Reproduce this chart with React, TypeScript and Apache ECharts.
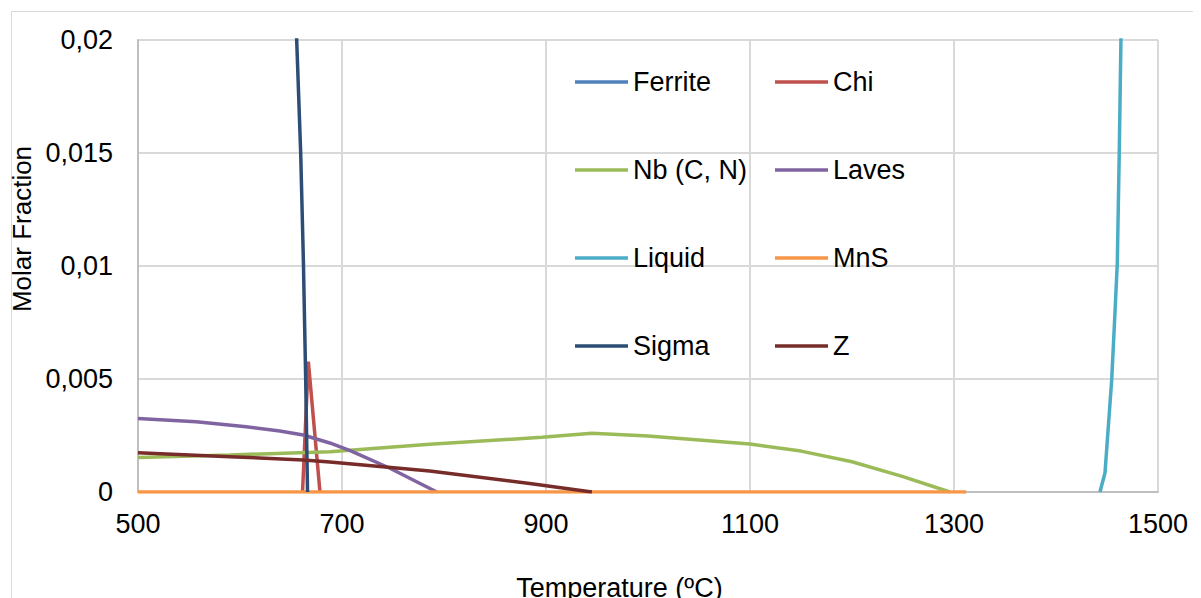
import React, { useEffect, useRef } from "react";
import * as echarts from "echarts";

// ---- data ----
const seriesNames = ["Ferrite", "Chi", "Nb (C, N)", "Laves", "Liquid", "MnS", "Sigma", "Z"];
const seriesColors = ["#4F81BD", "#C0504D", "#9BBB59", "#8064A2", "#4BACC6", "#F79646", "#2C4D75", "#772C2A"];

const xTicks = [500, 700, 900, 1100, 1300, 1500];
const yTicks = [0, 0.005, 0.01, 0.015, 0.02];

const ferriteT: number[] = [];
const ferriteV: number[] = [];

const chiT = [661.3, 667.0, 678.4];
const chiV = [0, 0.00577, 0];

const nbT = [500, 590, 688, 786, 896, 945, 1000, 1050, 1100, 1150, 1200, 1250, 1296];
const nbV = [0.00153, 0.00164, 0.00178, 0.00211, 0.00242, 0.0026, 0.00248, 0.0023, 0.00212, 0.00181, 0.00134, 0.00068, 0];

const lavesT = [500, 557, 606, 639, 662, 688, 708, 747, 793];
const lavesV = [0.00325, 0.00311, 0.00289, 0.0027, 0.00252, 0.00217, 0.00183, 0.00105, 0];

const liquidT = [1443.1, 1448, 1454.6, 1457.8, 1460.1, 1462, 1463.7];
const liquidV = [0, 0.00084, 0.00496, 0.00792, 0.01013, 0.015, 0.0201];

const mnsT = [500, 1312];
const mnsV = [0, 0];

const sigmaT = [655.5, 659.5, 662.2, 664.4, 666.2];
const sigmaV = [0.0201, 0.015, 0.0101, 0.005, 0];

const zT = [500, 590, 662, 688, 786, 884, 945];
const zV = [0.00174, 0.00156, 0.00142, 0.00133, 0.00093, 0.00038, 0];

const seriesT = [ferriteT, chiT, nbT, lavesT, liquidT, mnsT, sigmaT, zT];
const seriesV = [ferriteV, chiV, nbV, lavesV, liquidV, mnsV, sigmaV, zV];

const FONT = "'Liberation Sans', Arial, sans-serif";
const FS = 27;

export default function App() {
  const ref = useRef<HTMLDivElement>(null);

  useEffect(() => {
    document.documentElement.style.overflow = "hidden";
    document.body.style.overflow = "hidden";
    const chart = echarts.init(ref.current!, undefined, { renderer: "svg" });

    const series = seriesNames.map((name, i) => ({
      name,
      type: "line",
      data: seriesT[i].map((t, j) => [t, seriesV[i][j]]),
      showSymbol: false,
      symbol: "none",
      color: seriesColors[i],
      lineStyle: { width: 3.5, color: seriesColors[i] },
      clip: true,
    }));

    const legendBase = {
      orient: "vertical",
      padding: 0,
      itemWidth: 53,
      itemHeight: 14,
      itemGap: 61,
      icon: "path://M0,5.5 L53,5.5 L53,9 L0,9 Z",
      textStyle: { fontFamily: FONT, fontSize: FS, color: "#000" },
      selectedMode: false,
    };

    chart.setOption({
      animation: false,
      backgroundColor: "#fff",
      textStyle: { fontFamily: FONT },
      grid: {
        left: 130,
        top: 32,
        width: 1020,
        height: 452,
        containLabel: false,
        outerBoundsMode: "none",
      },
      legend: [
        { ...legendBase, left: 567, top: 60.5, data: ["Ferrite", "Nb (C, N)", "Liquid", "Sigma"] },
        { ...legendBase, left: 767, top: 60.5, data: ["Chi", "Laves", "MnS", "Z"] },
      ],
      xAxis: {
        type: "value",
        min: xTicks[0],
        max: xTicks[xTicks.length - 1],
        interval: xTicks[1] - xTicks[0],
        name: "Temperature (ºC)",
        nameLocation: "middle",
        nameGap: 82,
        nameTextStyle: { fontFamily: FONT, fontSize: FS, color: "#000", padding: [0, 57, 0, 0] },
        axisLine: { show: true, lineStyle: { color: "#bfbfbf", width: 2 } },
        axisTick: { show: false },
        axisLabel: {
          fontFamily: FONT,
          fontSize: FS,
          color: "#000",
          margin: 18,
          formatter: (v: number) => String(v),
        },
        splitLine: { show: true, lineStyle: { color: "#d9d9d9", width: 2 } },
      },
      yAxis: {
        type: "value",
        min: yTicks[0],
        max: yTicks[yTicks.length - 1],
        interval: yTicks[1] - yTicks[0],
        name: "Molar Fraction",
        nameLocation: "middle",
        nameGap: 95,
        nameTextStyle: { fontFamily: FONT, fontSize: 26, color: "#000", padding: [0, 0, 0, 74] },
        axisLine: { show: true, lineStyle: { color: "#bfbfbf", width: 2 } },
        axisTick: { show: false },
        axisLabel: {
          fontFamily: FONT,
          fontSize: FS,
          color: "#000",
          margin: 25,
          formatter: (v: number) => String(+v.toFixed(4)).replace(".", ","),
        },
        splitLine: { show: true, lineStyle: { color: "#d9d9d9", width: 2 } },
      },
      graphic: [
        {
          type: "rect",
          left: 1,
          top: 1,
          shape: { x: 0, y: 0, width: 1300, height: 800 },
          style: { fill: "none", stroke: "#d9d9d9", lineWidth: 1 },
          silent: true,
          z: -1,
        },
      ],
      series,
    });

    return () => {
      chart.dispose();
    };
  }, []);

  return <div ref={ref} style={{ width: 1185, height: 590 }} />;
}
